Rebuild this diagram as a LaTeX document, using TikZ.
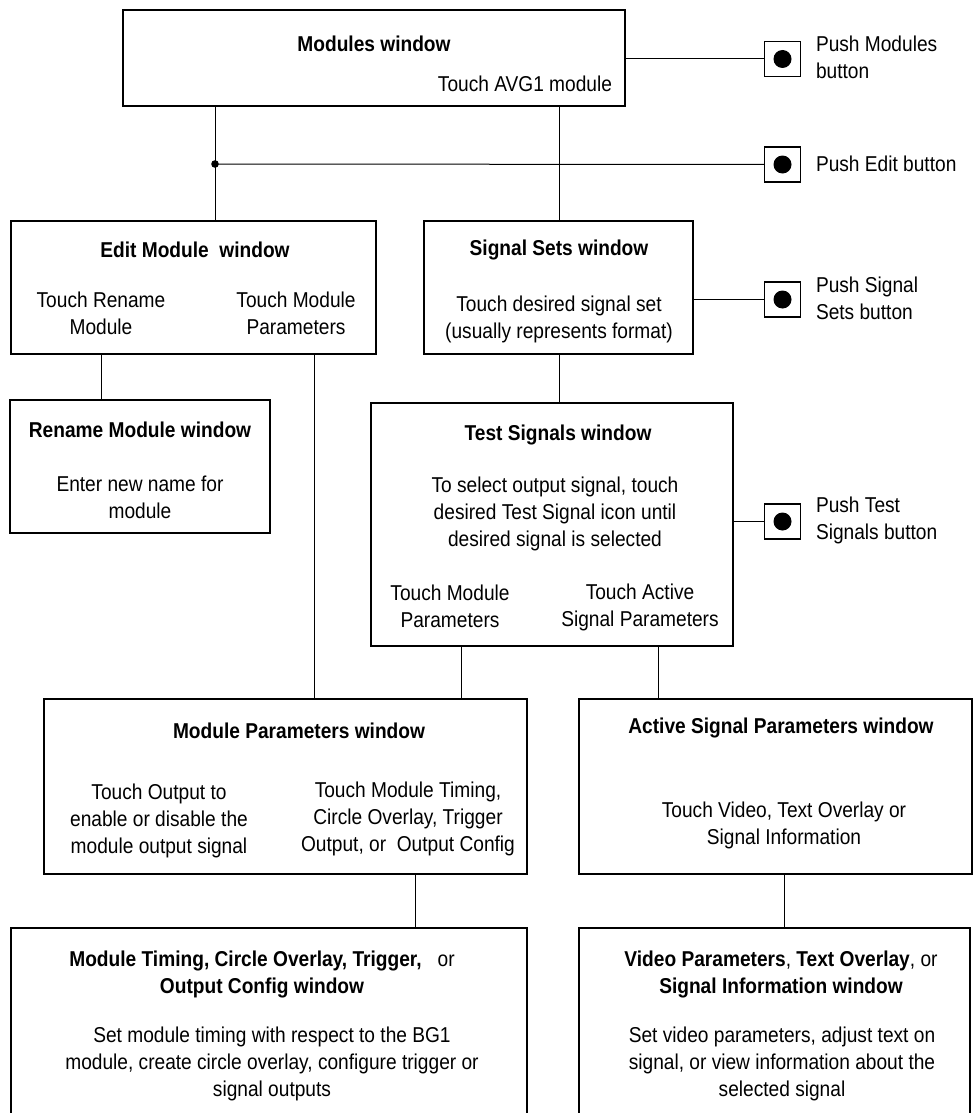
\documentclass[tikz,border=0pt]{standalone}
\usepackage{fontspec}
\setmainfont{Liberation Sans}[FakeStretch=0.89]
\begin{document}
\begin{tikzpicture}[x=1pt,y=-1pt,
  every node/.style={font=\fontsize{21.5}{27}\selectfont, inner sep=0pt, outer sep=0pt},
  box/.style={draw, line width=2.7pt, rectangle},
  conn/.style={line width=1pt},
  btn/.style={draw, line width=1.1pt, minimum width=36pt, minimum height=35pt},
  txt/.style={align=center},
  ltxt/.style={align=left, anchor=west},
  ttl/.style={align=center, font=\fontsize{21.5}{27}\selectfont\bfseries}]
\useasboundingbox (0,0) rectangle (974,1113);
% boxes
\node[box, minimum width=502pt, minimum height=96pt] (mod) at (374,58) {};
\node[box, minimum width=365pt, minimum height=133pt] (edit) at (193.5,287.5) {};
\node[box, minimum width=269pt, minimum height=133pt] (sig) at (558.5,287.5) {};
\node[box, minimum width=260pt, minimum height=133pt] (ren) at (140,466.5) {};
\node[box, minimum width=362pt, minimum height=243pt] (test) at (552,524.5) {};
\node[box, minimum width=483pt, minimum height=175pt] (mp) at (285.5,786.5) {};
\node[box, minimum width=393pt, minimum height=175pt] (asp) at (775.5,786.5) {};
\node[box, minimum width=516pt, minimum height=212pt] (bl) at (269,1034) {};
\node[box, minimum width=391pt, minimum height=212pt] (br) at (774.5,1034) {};
% buttons
\node[btn] (b1) at (782.5,59) {};
\node[btn] (b2) at (782.5,164.5) {};
\node[btn] (b3) at (782.5,299.5) {};
\node[btn] (b4) at (782.5,521.5) {};
\foreach \b in {b1,b2,b3,b4} {\fill (\b.center) circle (9pt);}
% button labels
\node[ltxt] (t1) at (816,57.5) {Push Modules\\button};
\node[ltxt] (t2) at (816,164) {Push Edit button};
\node[ltxt] (t3) at (816,298.5) {Push Signal\\Sets button};
\node[ltxt] (t4) at (816,520.5) {Push Test\\Signals button};
% texts
\node[ttl] (modT) at (374,43.5) {Modules window};
\node[anchor=east] (modS) at (612,84) {Touch AVG1 module};
\node[ttl] (editT) at (195,250) {Edit Module\ \ window};
\node[txt] (editA) at (101,313.5) {Touch Rename\\Module};
\node[txt] (editB) at (296,313.5) {Touch Module\\Parameters};
\node[ttl] (sigT) at (559,250) {Signal Sets window};
\node[txt] (sigA) at (559,319.5) {Touch desired signal set\\(usually represents format)};
\node[ttl] (renT) at (140,430) {Rename Module window};
\node[txt] (renA) at (140,497.5) {Enter new name for\\module};
\node[ttl] (testT) at (558,435) {Test Signals window};
\node[txt] (testA) at (555,514) {To select output signal, touch\\desired Test Signal icon until\\desired signal is selected};
\node[txt] (testB) at (450,606) {Touch Module\\Parameters};
\node[txt] (testC) at (640,607.5) {Touch Active\\Signal Parameters};
\node[ttl] (mpT) at (299,731) {Module Parameters window};
\node[txt] (mpA) at (159,820.5) {Touch Output to\\enable or disable the\\module output signal};
\node[txt] (mpB) at (408,818.5) {Touch Module Timing,\\Circle Overlay, Trigger\\Output, or\ \ Output Config};
\node[ttl] (aspT) at (781,728) {Active Signal Parameters window};
\node[txt] (aspA) at (784,825.5) {Touch Video, Text Overlay or\\Signal Information};
\node[txt] (blT) at (262,974) {\textbf{Module Timing, Circle Overlay, Trigger,}\ \ \ or\\\textbf{Output Config window}};
\node[txt] (blA) at (272,1063.5) {Set module timing with respect to the BG1\\module, create circle overlay, configure trigger or\\signal outputs};
\node[txt] (brT) at (781,974) {\textbf{Video Parameters}, \textbf{Text Overlay}, or\\\textbf{Signal Information window}};
\node[txt] (brA) at (782,1063.5) {Set video parameters, adjust text on\\signal, or view information about the\\selected signal};
% connector x positions
\coordinate (xa) at (215,0);
\coordinate (xb) at (559,0);
\coordinate (xc) at (101,0);
\coordinate (xd) at (314,0);
\coordinate (xe) at (461,0);
\coordinate (xf) at (658,0);
\coordinate (xg) at (415,0);
\coordinate (xh) at (784,0);
\coordinate (jn) at (215,164);
% connectors
\draw[conn] (mod.south -| xa) -- (edit.north -| xa);
\draw[conn] (mod.south -| xb) -- (sig.north -| xb);
\draw[conn] (b1.west) -- (b1.west -| mod.east);
\draw[conn] (jn) -- (b2.west);
\fill (jn) circle (3.8pt);
\draw[conn] (b3.west) -- (b3.west -| sig.east);
\draw[conn] (b4.west) -- (b4.west -| test.east);
\draw[conn] (edit.south -| xc) -- (ren.north -| xc);
\draw[conn] (edit.south -| xd) -- (mp.north -| xd);
\draw[conn] (sig.south -| xb) -- (test.north -| xb);
\draw[conn] (test.south -| xe) -- (mp.north -| xe);
\draw[conn] (test.south -| xf) -- (asp.north -| xf);
\draw[conn] (mp.south -| xg) -- (bl.north -| xg);
\draw[conn] (asp.south -| xh) -- (br.north -| xh);
\end{tikzpicture}
\end{document}
